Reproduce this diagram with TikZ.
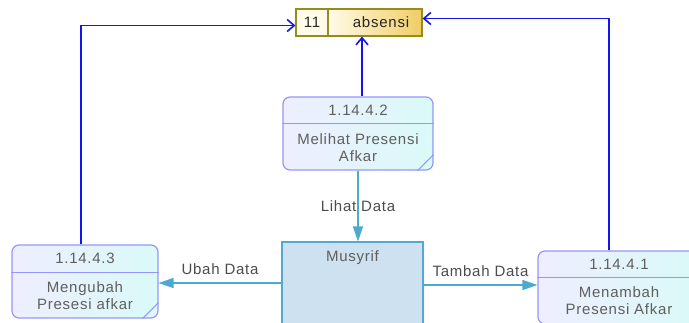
\documentclass[tikz,border=0pt]{standalone}
\usepackage{fontspec}
\setmainfont{Liberation Sans}[LetterSpace=5]
\usetikzlibrary{arrows.meta}

\definecolor{procline}{RGB}{150,150,250}
\definecolor{procA}{RGB}{238,238,255}
\definecolor{procB}{RGB}{218,250,248}
\definecolor{flowblue}{RGB}{20,20,240}
\definecolor{flowcyan}{RGB}{75,170,205}
\definecolor{extfill}{RGB}{205,225,240}
\definecolor{extline}{RGB}{80,170,210}
\definecolor{dsline}{RGB}{150,140,30}
\definecolor{dsA}{RGB}{255,251,232}
\definecolor{dsB}{RGB}{240,205,100}
\definecolor{txtgray}{RGB}{95,95,95}

\tikzset{
  process/.style={draw=procline,line width=1.2pt,rounded corners=7pt,left color=procA,right color=procB,minimum height=73pt,inner sep=0pt},
  proctext/.style={text=txtgray,align=center,font=\fontsize{15}{17}\selectfont,inner sep=0pt},
  procsplit/.style={draw=procline,line width=1pt},
  flowb/.style={draw=flowblue,line width=1.6pt,-{Straight Barb[length=7pt,width=12pt]}},
  flowc/.style={draw=flowcyan,line width=1.6pt,-{Triangle[length=15pt,width=10pt]}},
  flowlabel/.style={text=txtgray!80!black,font=\fontsize{15}{17}\selectfont},
  dsbox/.style={draw=dsline,line width=1.2pt,minimum height=27pt,inner sep=0pt,font=\fontsize{15}{17}\selectfont,text=black!85}
}

\begin{document}
\begin{tikzpicture}[x=1pt,y=-1pt]
  \useasboundingbox (0,0) rectangle (689,322);
  \clip (0,0) rectangle (689,322);

  % data store
  \node[dsbox,fill=dsA,minimum width=32pt] (dsid) at (312,22.5) {11};
  \node[dsbox,left color=dsA,right color=dsB,minimum width=94pt] (ds) at (375,22.5) {\hspace{12pt}absensi};

  % processes
  \node[process,minimum width=150pt] (p2) at (358,133.5) {};
  \draw[procsplit] ([yshift=-27pt]p2.north west) -- ([yshift=-27pt]p2.north east);
  \draw[procsplit] ([xshift=-16pt]p2.south east) -- ([yshift=16pt]p2.south east);
  \node[proctext] (p2id) at ([yshift=-13.5pt]p2.north) {1.14.4.2};
  \node[proctext] (p2name) at ([yshift=23pt]p2.south) {Melihat Presensi\\Afkar};

  \node[process,minimum width=146pt] (p3) at (85,281.5) {};
  \draw[procsplit] ([yshift=-28pt]p3.north west) -- ([yshift=-28pt]p3.north east);
  \draw[procsplit] ([xshift=-16pt]p3.south east) -- ([yshift=16pt]p3.south east);
  \node[proctext] (p3id) at ([yshift=-14pt]p3.north) {1.14.4.3};
  \node[proctext] (p3name) at ([yshift=22.5pt]p3.south) {Mengubah\\Presesi afkar};

  \node[process,minimum width=162pt] (p1) at (619,287.5) {};
  \draw[procsplit] ([yshift=-27pt]p1.north west) -- ([yshift=-27pt]p1.north east);
  \node[proctext] (p1id) at ([yshift=-13.5pt]p1.north) {1.14.4.1};
  \node[proctext] (p1name) at ([yshift=24pt]p1.south) {Menambah\\Presensi Afkar};

  % external entity
  \node[draw=extline,line width=1.2pt,fill=extfill,minimum width=141pt,minimum height=82pt] (mus) at (352.5,283) {};
  \node[proctext,anchor=north] (musname) at ([yshift=-9pt]mus.north) {Musyrif};

  % flows to the data store
  \draw[flowb] ([xshift=-4pt]p3.north) |- ([yshift=-3pt]dsid.west);
  \draw[flowb] ([xshift=-10pt]p1.north) |- ([yshift=4pt]ds.east);
  \draw[flowb] ([xshift=4pt]p2.north) -- ([xshift=4pt]p2.north |- ds.south);

  % flows from the entity
  \draw[flowc] (p2.south) -- node[flowlabel]{Lihat Data} (p2.south |- mus.north);
  \draw[flowc] (mus.west) -- node[flowlabel,above=4pt]{Ubah Data} (mus.west -| p3.east);
  \draw[flowc] ([yshift=-2pt]mus.east) -- node[flowlabel,above=4pt]{Tambah Data} ([yshift=-2pt]mus.east -| p1.west);
\end{tikzpicture}
\end{document}
